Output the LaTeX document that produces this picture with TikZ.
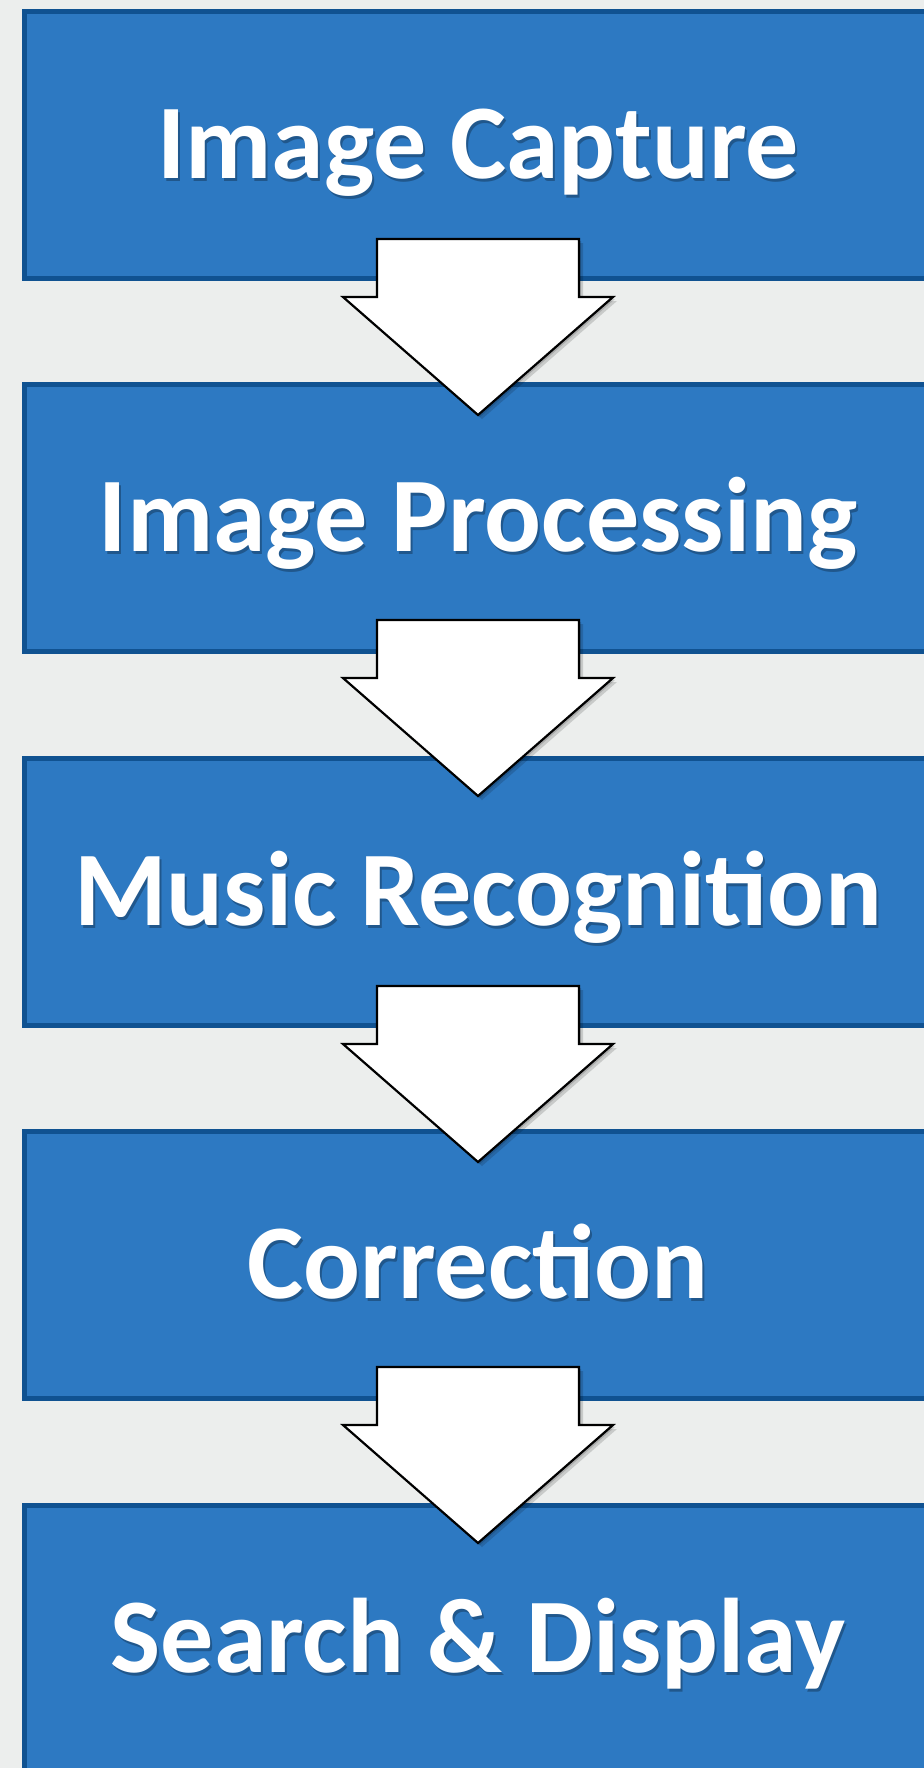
\documentclass[tikz,border=0pt]{standalone}
\usepackage{fontspec}
\setmainfont{Carlito}
\definecolor{bg}{RGB}{236,238,237}
\definecolor{boxfill}{RGB}{45,121,194}
\definecolor{boxline}{RGB}{16,82,145}
\colorlet{txtshadow}{boxfill!72!black}
\newcommand\shadowedtext[1]{\makebox[0pt][l]{\hspace{1pt}\raisebox{-1.5pt}{\textcolor{txtshadow}{#1}}}#1}
\begin{document}
\begin{tikzpicture}[x=0.5pt,y=-0.5pt,
  stage/.style={draw=boxline, fill=boxfill, line width=2.5pt, rectangle,
    minimum width=457.65pt, minimum height=133.5pt, inner sep=0pt, outer sep=0pt,
    anchor=north west},
  lbl/.style={text=white, anchor=base, inner sep=0pt,
    font=\fontsize{53pt}{60pt}\selectfont\bfseries},
  arrowbody/.style={draw=black, fill=white, line width=1.1pt, line join=miter},
  arrowshadow/.style={fill=black, opacity=0.15}
]
\useasboundingbox (0,0) rectangle (924,1768);
\fill[bg] (0,0) rectangle (924,1768);

\foreach \i/\txt in {0/Image Capture,1/Image Processing,2/Music Recognition,3/Correction,4/Search \& Display}{
  \node[stage] (box\i) at (24.7,{11.5+373.4*\i}) {};
  \node[lbl] (t\i) at (478,{178.5+373.4*\i}) {\shadowedtext{\txt}};
}

\foreach \j/\top in {1/239,2/620,3/986,4/1367}{
  \coordinate (a\j) at (478,\top);
  \fill[arrowshadow, shift={(a\j)}, xshift=1pt, yshift=-1pt]
    (-101,0) -- (101,0) -- (101,58) -- (135,58) -- (0,176) -- (-135,58) -- (-101,58) -- cycle;
  \fill[arrowshadow, shift={(a\j)}, xshift=2pt, yshift=-2pt]
    (-101,0) -- (101,0) -- (101,58) -- (135,58) -- (0,176) -- (-135,58) -- (-101,58) -- cycle;
  \draw[arrowbody, shift={(a\j)}]
    (-101,0) -- (101,0) -- (101,58) -- (135,58) -- (0,176) -- (-135,58) -- (-101,58) -- cycle;
}
\end{tikzpicture}
\end{document}
